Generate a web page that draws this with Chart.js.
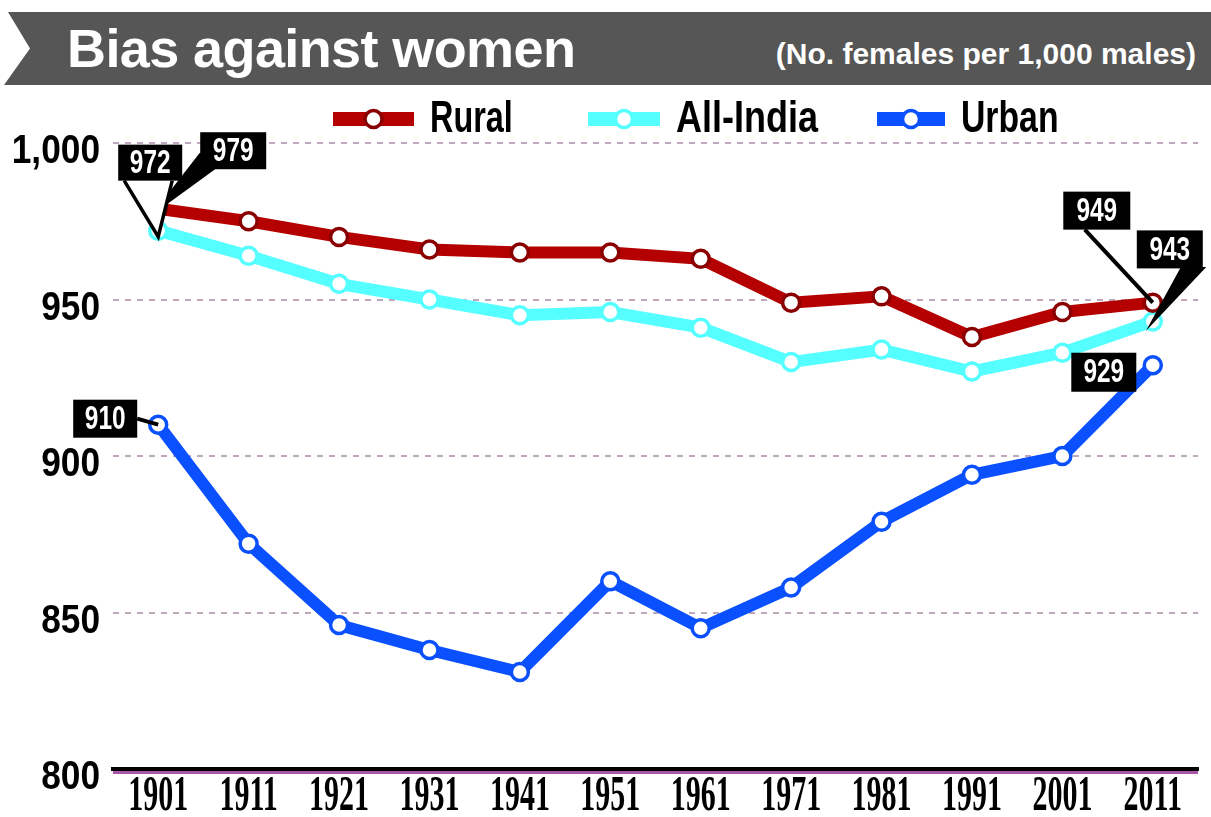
<!DOCTYPE html>
<html>
<head>
<meta charset="utf-8">
<script src="https://cdn.jsdelivr.net/npm/chart.js@4.4.1/dist/chart.umd.min.js"></script>
<style>
    html, body { margin: 0; padding: 0; background: #fff; }
    body { width: 1211px; height: 817px; position: relative; overflow: hidden; }
    #bar {
        position: absolute; left: 0; top: 12px; width: 1211px; height: 73px;
        background: #565656;
        clip-path: polygon(8px 0, 100% 0, 100% 100%, 4px 100%, 30px 50%);
    }
    #title {
        position: absolute; left: 67px; top: 5px;
        font: bold 54px 'Liberation Sans', Arial, sans-serif; color: #fff;
        letter-spacing: -0.6px;
    }
    #subtitle {
        position: absolute; right: 15px; top: 25px;
        font: bold 30px 'Liberation Sans', Arial, sans-serif; color: #fff;
        letter-spacing: 0px;
    }
    #chart { position: absolute; left: 0; top: 0; }
</style>
</head>
<body>
<div id="bar">
    <div id="title">Bias against women</div>
    <div id="subtitle">(No. females per 1,000 males)</div>
</div>
<canvas id="chart" width="1211" height="817"></canvas>
<script>

const years = ['1901', '1911', '1921', '1931', '1941', '1951', '1961', '1971', '1981', '1991', '2001', '2011'];
const rural = [979, 975, 970, 966, 965, 965, 963, 949, 951, 938, 946, 949];
const allIndia = [972, 964, 955, 950, 945, 946, 941, 930, 934, 927, 933, 943];
const urban = [910, 872, 846, 838, 831, 860, 845, 858, 879, 894, 900, 929];
const yTicks = [800, 850, 900, 950, 1000];

// callout labels: which point they belong to, and where the box sits relative to it
const callouts = [
    { text: '979', series: 0, index: 0, dx: 75, dy: -58, w: 66, h: 37, tail: 'wedge', base: [[-33, 4], [-20, 18]] },
    { text: '972', series: 1, index: 0, dx: -8, dy: -68, w: 64, h: 36, tail: 'outline', base: [[-26, 18], [22, 18]] },
    { text: '910', series: 2, index: 0, dx: -53, dy: -6, w: 64, h: 38, tail: 'line', base: [[32, 0]] },
    { text: '949', series: 0, index: 11, dx: -56, dy: -92, w: 67, h: 38, tail: 'line', base: [[-12, 19]] },
    { text: '943', series: 1, index: 11, dx: 17, dy: -72, w: 66, h: 38, tail: 'wedge', base: [[12, 19], [33, 19]] },
    { text: '929', series: 2, index: 11, dx: -49, dy: 7, w: 65, h: 39, tail: null, base: [] }
];

const colors = {
    rural: '#b40000',
    ruralDark: '#8a0000',
    allIndia: '#55ffff',
    urban: '#0a50ff',
    grid: '#bda8bd',
    axis: '#000',
    axisUnder: '#a955a9'
};

const sans = "'Liberation Sans', Arial, sans-serif";
const serif = "'Liberation Serif', 'Times New Roman', serif";

const legendItems = [
    { label: 'Rural', line: colors.rural, ring: colors.ruralDark, x0: 333, x1: 414, sx: 0.72 },
    { label: 'All-India', line: colors.allIndia, ring: colors.allIndia, x0: 588, x1: 660, sx: 0.8 },
    { label: 'Urban', line: colors.urban, ring: colors.urban, x0: 877, x1: 945, sx: 0.75 }
];

// text squeezed sideways, the original uses a condensed face
function squeezed(ctx, text, x, y, sx, align) {
    ctx.save();
    ctx.translate(x, y);
    ctx.scale(sx, 1);
    ctx.textAlign = align;
    ctx.fillText(text, 0, 0);
    ctx.restore();
}

const legendPlugin = {
    id: 'customLegend',
    afterDraw(chart) {
        const ctx = chart.ctx;
        const y = 119;
        ctx.save();
        legendItems.forEach(item => {
            ctx.strokeStyle = item.line;
            ctx.lineWidth = 14;
            ctx.beginPath();
            ctx.moveTo(item.x0, y);
            ctx.lineTo(item.x1, y);
            ctx.stroke();
            const cx = (item.x0 + item.x1) / 2;
            ctx.fillStyle = '#fff';
            ctx.strokeStyle = item.ring;
            ctx.lineWidth = 3.5;
            ctx.beginPath();
            ctx.arc(cx, y, 8.5, 0, Math.PI * 2);
            ctx.fill();
            ctx.stroke();
            ctx.fillStyle = '#000';
            ctx.font = 'bold 45px ' + sans;
            ctx.textBaseline = 'middle';
            squeezed(ctx, item.label, item.x1 + 16, y + 1, item.sx, 'left');
        });
        ctx.restore();
    }
};

const tickPlugin = {
    id: 'squeezedTicks',
    afterDraw(chart) {
        const ctx = chart.ctx;
        const area = chart.chartArea;
        const xs = chart.scales.x;
        const ys = chart.scales.y;
        ctx.save();
        // purple rule under the axis line
        ctx.strokeStyle = colors.axisUnder;
        ctx.lineWidth = 3;
        ctx.beginPath();
        ctx.moveTo(area.left, area.bottom + 3.5);
        ctx.lineTo(area.right, area.bottom + 3.5);
        ctx.stroke();

        ctx.fillStyle = '#000';
        ctx.textBaseline = 'middle';
        ctx.font = 'bold 50px ' + serif;
        years.forEach((yr, i) => {
            squeezed(ctx, yr, xs.getPixelForTick(i), area.bottom + 28, 0.6, 'center');
        });
        ctx.font = 'bold 41px ' + sans;
        yTicks.forEach(v => {
            squeezed(ctx, v.toLocaleString('en-US'), 100, ys.getPixelForValue(v) + 9, 0.86, 'right');
        });
        ctx.restore();
    }
};

const calloutPlugin = {
    id: 'callouts',
    afterDatasetsDraw(chart) {
        const ctx = chart.ctx;
        ctx.save();
        callouts.forEach(c => {
            const pt = chart.getDatasetMeta(c.series).data[c.index];
            const bx = pt.x + c.dx;
            const by = pt.y + c.dy;
            ctx.fillStyle = '#000';
            ctx.strokeStyle = '#000';
            if (c.tail === 'line') {
                ctx.lineWidth = 4;
                ctx.beginPath();
                ctx.moveTo(bx + c.base[0][0], by + c.base[0][1]);
                ctx.lineTo(pt.x, pt.y);
                ctx.stroke();
            } else if (c.tail === 'outline') {
                ctx.fillStyle = '#fff';
                ctx.beginPath();
                ctx.moveTo(bx + c.base[0][0], by + c.base[0][1]);
                ctx.lineTo(pt.x, pt.y + 6);
                ctx.lineTo(bx + c.base[1][0], by + c.base[1][1]);
                ctx.closePath();
                ctx.fill();
                ctx.lineWidth = 3.5;
                ctx.beginPath();
                ctx.moveTo(bx + c.base[0][0], by + c.base[0][1]);
                ctx.lineTo(pt.x, pt.y + 6);
                ctx.lineTo(bx + c.base[1][0], by + c.base[1][1]);
                ctx.stroke();
                ctx.fillStyle = '#000';
            } else if (c.tail === 'wedge') {
                ctx.lineWidth = 3;
                ctx.beginPath();
                ctx.moveTo(bx + c.base[0][0], by + c.base[0][1]);
                ctx.lineTo(pt.x, pt.y);
                ctx.lineTo(bx + c.base[1][0], by + c.base[1][1]);
                ctx.closePath();
                ctx.fill();
                ctx.stroke();
            }
            ctx.fillRect(bx - c.w / 2, by - c.h / 2, c.w, c.h);
            ctx.fillStyle = '#fff';
            ctx.font = 'bold 33px ' + sans;
            ctx.textBaseline = 'middle';
            squeezed(ctx, c.text, bx, by + 1, 0.74, 'center');
        });
        ctx.restore();
    }
};

function lineSet(label, data, line, ring) {
    return {
        label: label,
        data: data,
        borderColor: line,
        borderWidth: 12,
        pointRadius: 8.5,
        pointHoverRadius: 8.5,
        pointBorderWidth: 3.5,
        pointBackgroundColor: '#fff',
        pointBorderColor: ring,
        tension: 0,
        clip: false
    };
}

new Chart(document.getElementById('chart'), {
    type: 'line',
    data: {
        labels: years,
        datasets: [
            lineSet('Rural', rural, colors.rural, colors.ruralDark),
            lineSet('All-India', allIndia, colors.allIndia, colors.allIndia),
            lineSet('Urban', urban, colors.urban, colors.urban)
        ]
    },
    plugins: [legendPlugin, tickPlugin, calloutPlugin],
    options: {
        responsive: false,
        animation: false,
        devicePixelRatio: 1,
        layout: { padding: { left: 0, right: 13, top: 143, bottom: 0 } },
        plugins: {
            legend: { display: false },
            tooltip: { enabled: false }
        },
        scales: {
            x: {
                offset: true,
                grid: { display: false },
                border: { display: true, color: colors.axis, width: 4 },
                ticks: { display: false },
                afterFit: scale => { scale.height = 48; }
            },
            y: {
                min: 800,
                max: 1000,
                afterBuildTicks: scale => { scale.ticks = yTicks.map(v => ({ value: v })); },
                grid: {
                    color: colors.grid,
                    lineWidth: 2,
                    drawTicks: false
                },
                border: { display: false, dash: [6, 6] },
                ticks: { display: false },
                afterFit: scale => { scale.width = 113; }
            }
        }
    }
});
</script>
</body>
</html>
